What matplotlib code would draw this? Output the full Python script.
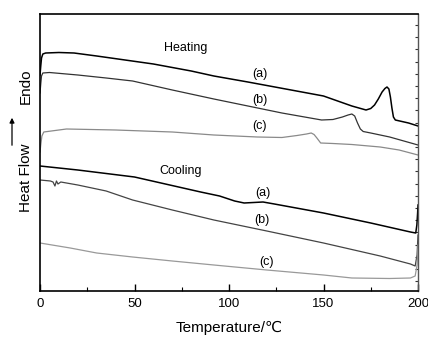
import numpy as np
import matplotlib.pyplot as plt
from matplotlib.patches import FancyArrowPatch
from matplotlib.ticker import MultipleLocator, FixedLocator

plt.rcParams['font.family'] = ['Liberation Sans', 'DejaVu Sans']

# DSC traces, heat flow in arbitrary units (endo up)
t_ha = [0, 0.4, 0.8, 1.5, 3, 10, 18, 30, 45, 60, 80, 92, 110, 130, 150, 165,
        172.5, 175, 177, 179, 181, 182.5, 183.6, 184.6, 185.4, 186.2, 187, 188, 195, 200]
q_ha = [216, 225, 233, 237, 238, 238.5, 238, 235, 231, 227, 220, 215, 209, 202, 195, 185,
        181, 182.5, 186, 192, 199, 202.5, 204, 202, 194, 183, 174, 171, 168, 165]

t_hb = [0, 0.4, 0.8, 1.5, 5, 20, 35, 49, 70, 92, 110, 128, 140, 149, 155, 160,
        163, 165, 166.5, 168, 169.5, 171, 175, 185, 200]
q_hb = [198, 207, 215, 218, 218.5, 216, 213, 210, 201, 192, 185, 178, 174, 171, 171.5, 174,
        176, 177, 175, 168, 162, 159.5, 158, 154, 146]

t_hc = [0, 0.4, 1, 2, 14, 40, 70, 92, 115, 128, 136, 141, 143.5, 145, 146.5, 148.5,
        155, 165, 180, 190, 200]
q_hc = [139, 146, 155, 159, 162, 161, 159, 156, 154, 153.5, 155.5, 157, 158, 156.5, 153, 148,
        147.5, 146.5, 144, 141, 136]

t_ca = [0, 20, 50, 85, 95, 103, 108, 113, 118, 124, 150, 175, 196, 198.8, 199.4, 199.8, 200]
q_ca = [125, 121, 114, 99, 95, 90, 88, 88.5, 89, 87, 78, 68, 59, 58, 66, 78, 86]

t_cb = [0, 5.5, 6.9, 7.9, 8.7, 9.5, 11, 20, 35, 49, 70, 92, 120, 150, 180, 196,
        198.5, 199.5, 200]
q_cb = [111, 110, 109, 105, 110, 107, 109, 106, 100, 91, 81, 71, 60, 48, 35, 27,
        25, 36, 56]

t_cc = [0, 16, 30, 49, 70, 92, 120, 150, 165, 185, 196, 198.5, 199.5, 200]
q_cc = [48, 43, 38, 34, 30, 26, 21, 16, 13, 12.5, 13, 15, 26, 46]

xticks = [0, 50, 100, 150, 200]

fig = plt.figure(figsize=(4.28, 3.38), dpi=100)
ax = fig.add_axes([40 / 428, 47 / 338, 378 / 428, 277 / 338])

ax.plot(t_ha, q_ha, color='black', lw=1.1)
ax.plot(t_hb, q_hb, color='#333333', lw=0.9)
ax.plot(t_hc, q_hc, color='#8a8a8a', lw=0.9)
ax.plot(t_ca, q_ca, color='black', lw=1.1)
ax.plot(t_cb, q_cb, color='#444444', lw=0.9)
ax.plot(t_cc, q_cc, color='#999999', lw=0.9)

ax.set_xlim(0, 200)
ax.set_ylim(0, 277)

fs = 9
ax.text(77, 243, 'Heating', ha='center', va='center', fontsize=fs)
ax.text(74.6, 120, 'Cooling', ha='center', va='center', fontsize=fs)
ax.text(116.4, 217, '(a)', ha='center', va='center', fontsize=fs)
ax.text(116.4, 191, '(b)', ha='center', va='center', fontsize=fs)
ax.text(116.4, 165, '(c)', ha='center', va='center', fontsize=fs)
ax.text(118, 98, '(a)', ha='center', va='center', fontsize=fs)
ax.text(117.5, 71, '(b)', ha='center', va='center', fontsize=fs)
ax.text(119.6, 29, '(c)', ha='center', va='center', fontsize=fs)

# axes frame
for side in ['left', 'bottom', 'top']:
    ax.spines[side].set_linewidth(1.2)
ax.spines['right'].set_color('#555555')
ax.spines['right'].set_linewidth(1.0)

ax.xaxis.set_major_locator(FixedLocator(xticks))
ax.xaxis.set_minor_locator(MultipleLocator(25))
ax.set_xticklabels([str(v) for v in xticks], fontsize=9.5)
ax.tick_params(axis='x', which='major', direction='in', length=5, width=1, pad=5)
ax.tick_params(axis='x', which='minor', direction='in', length=3, width=0.8)
ax.tick_params(axis='y', which='both', left=False, labelleft=False,
               right=True, direction='in', length=2, width=0.8, color='#333333')
ax.yaxis.set_major_locator(FixedLocator(np.arange(266, 0, -12.2)))
ax.set_xlabel('Temperature/\u2103', fontsize=11, labelpad=8)

# y label with arrow
fig.text(26 / 428, 1 - 178 / 338, 'Heat Flow', rotation=90, ha='center', va='center', fontsize=11)
fig.text(26 / 428, 1 - 86 / 338, 'Endo', rotation=90, ha='center', va='center', fontsize=11)
fig.add_artist(FancyArrowPatch(
    (12 / 428, 1 - 148 / 338), (12 / 428, 1 - 115 / 338), transform=fig.transFigure,
    arrowstyle='-|>', mutation_scale=7, color='black', lw=0.9))

fig.savefig('out.png', dpi=100)
